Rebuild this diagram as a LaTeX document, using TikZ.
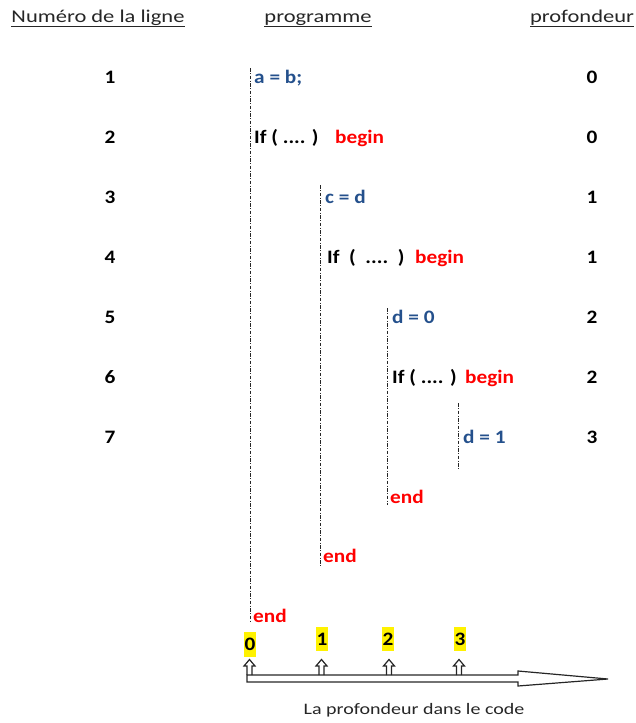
\documentclass[tikz,border=0pt]{standalone}
\usepackage{fontspec}
\setmainfont{Carlito}[FakeStretch=1.25]
\newfontfamily\codefont{Carlito}[FakeStretch=1.12]
\usetikzlibrary{positioning}

\definecolor{codeblue}{RGB}{36,80,140}
\definecolor{kwred}{RGB}{255,0,0}

\begin{document}
\begin{tikzpicture}[x=1pt, y=-1pt,
    header/.style={font=\fontsize{18}{22}\selectfont, anchor=base, text=black!85},
    rownum/.style={font=\codefont\fontsize{19}{22}\selectfont\bfseries, anchor=base},
    code/.style={font=\codefont\fontsize{19}{22}\selectfont\bfseries, anchor=base west, inner sep=0pt, text=codeblue},
    kw/.style={code, text=kwred},
    cond/.style={code, text=black},
    scopeline/.style={dash pattern=on 3.5pt off 1.5pt on 1pt off 1.5pt, line width=1pt, black!85},
    depthmark/.style={font=\codefont\fontsize{19}{22}\selectfont\bfseries, fill=yellow, inner xsep=0.3pt, inner ysep=6pt},
    hollow/.style={draw=black!85, line width=1.2pt}
]

    \useasboundingbox (0,0) rectangle (635,723);

    % Titres
    \node[header] (hnum) at (98,22) {\underline{Numéro de la ligne}};
    \node[header] (hprog) at (318,22) {\underline{programme}};
    \node[header] (hdepth) at (582,22) {\underline{profondeur}};

    % Numeros de ligne et profondeurs
    \foreach \n/\d in {1/0,2/0,3/1,4/1,5/2,6/2,7/3} {
        \node[rownum] (num\n) at (110,{23.5+60*\n}) {\n};
        \node[rownum] (depth\n) at (592,{23.5+60*\n}) {\d};
    }

    % Programme
    \node[code] (l1) at (254,83.5) {a = b;};
    \node[cond] (l2) at (254,143.5) {If ( .... )};
    \node[kw] (b2) at (335,143.5) {begin};
    \node[code] (l3) at (325,203.5) {c = d};
    \node[cond] (l4) at (327,263.5) {If\ \ (\ \ ....\ \ )};
    \node[kw] (b4) at (415,263.5) {begin};
    \node[code] (l5) at (392,323.5) {d = 0};
    \node[cond] (l6) at (392,383.5) {If ( .... )};
    \node[kw] (b6) at (465,383.5) {begin};
    \node[code] (l7) at (463,443.5) {d = 1};
    \node[kw] (e6) at (390,503.5) {end};
    \node[kw] (e4) at (323,562.5) {end};
    \node[kw] (e2) at (253,622.5) {end};

    % Blocs
    \draw[scopeline] (250.5,68) -- (250.5,622);
    \draw[scopeline] (320.5,185) -- (320.5,567);
    \draw[scopeline] (387,308) -- (387,505);
    \draw[scopeline] (458,403) -- (458,470);

    % Axe des profondeurs
    \draw[hollow] (247,675) -- (518,675) -- (518,671) -- (608,679)
        -- (518,686) -- (518,682) -- (247,682) -- cycle;
    \foreach \x in {249.5,321.5,389,459} {
        \draw[hollow] (\x-2.5,675) -- (\x-2.5,666) -- (\x-5.5,666) -- (\x,659.5)
            -- (\x+5.5,666) -- (\x+2.5,666) -- (\x+2.5,675);
    }

    \node[depthmark] (m0) at (250,644.5) {0};
    \node[depthmark] (m1) at (322,639) {1};
    \node[depthmark] (m2) at (388,639) {2};
    \node[depthmark] (m3) at (460,639) {3};

    \node[font=\fontsize{16}{20}\selectfont, text=black!85] (caption) at (414,710) {La profondeur dans le code};

\end{tikzpicture}
\end{document}
